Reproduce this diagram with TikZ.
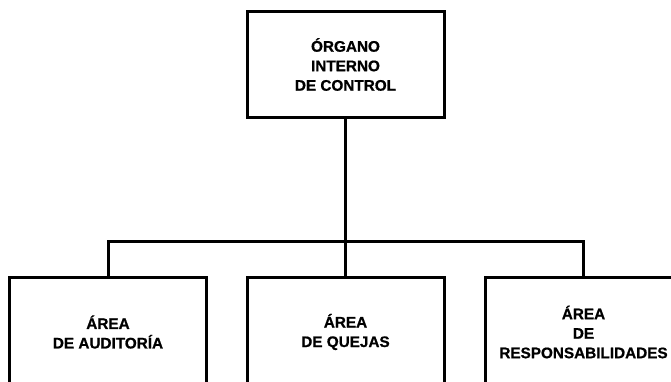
\documentclass[tikz,border=0pt]{standalone}
\usepackage{fontspec}
\newfontfamily\cajafont{Liberation Sans Bold}[FakeBold=0.8]
\begin{document}
\begin{tikzpicture}[x=1pt, y=1pt, line width=3pt, line join=miter,
    font=\fontsize{15.3}{19.5}\cajafont,
    caja/.style={draw, align=center, minimum width=197pt, inner sep=0pt}]
	\def\ybus{140}
	\useasboundingbox (0,0) rectangle (671,381);
	\clip (0,0) rectangle (671,381);
	\node[caja, minimum height=105pt] (organo) at (345.5,316.5) {ÓRGANO\\INTERNO\\DE CONTROL};
	\node[caja, minimum height=110pt] (auditoria) at (108,49) {ÁREA\\DE AUDITORÍA};
	\node[caja, minimum height=110pt] (quejas) at (345.5,49) {ÁREA\\DE QUEJAS};
	\node[caja, minimum height=110pt] (responsab) at (583.5,49) {ÁREA\\DE\\RESPONSABILIDADES};
	\coordinate (bus) at (345.5,\ybus);
	\draw (organo.south) -- (quejas.north);
	\draw (auditoria.north) |- (bus) -| (responsab.north);
\end{tikzpicture}
\end{document}
